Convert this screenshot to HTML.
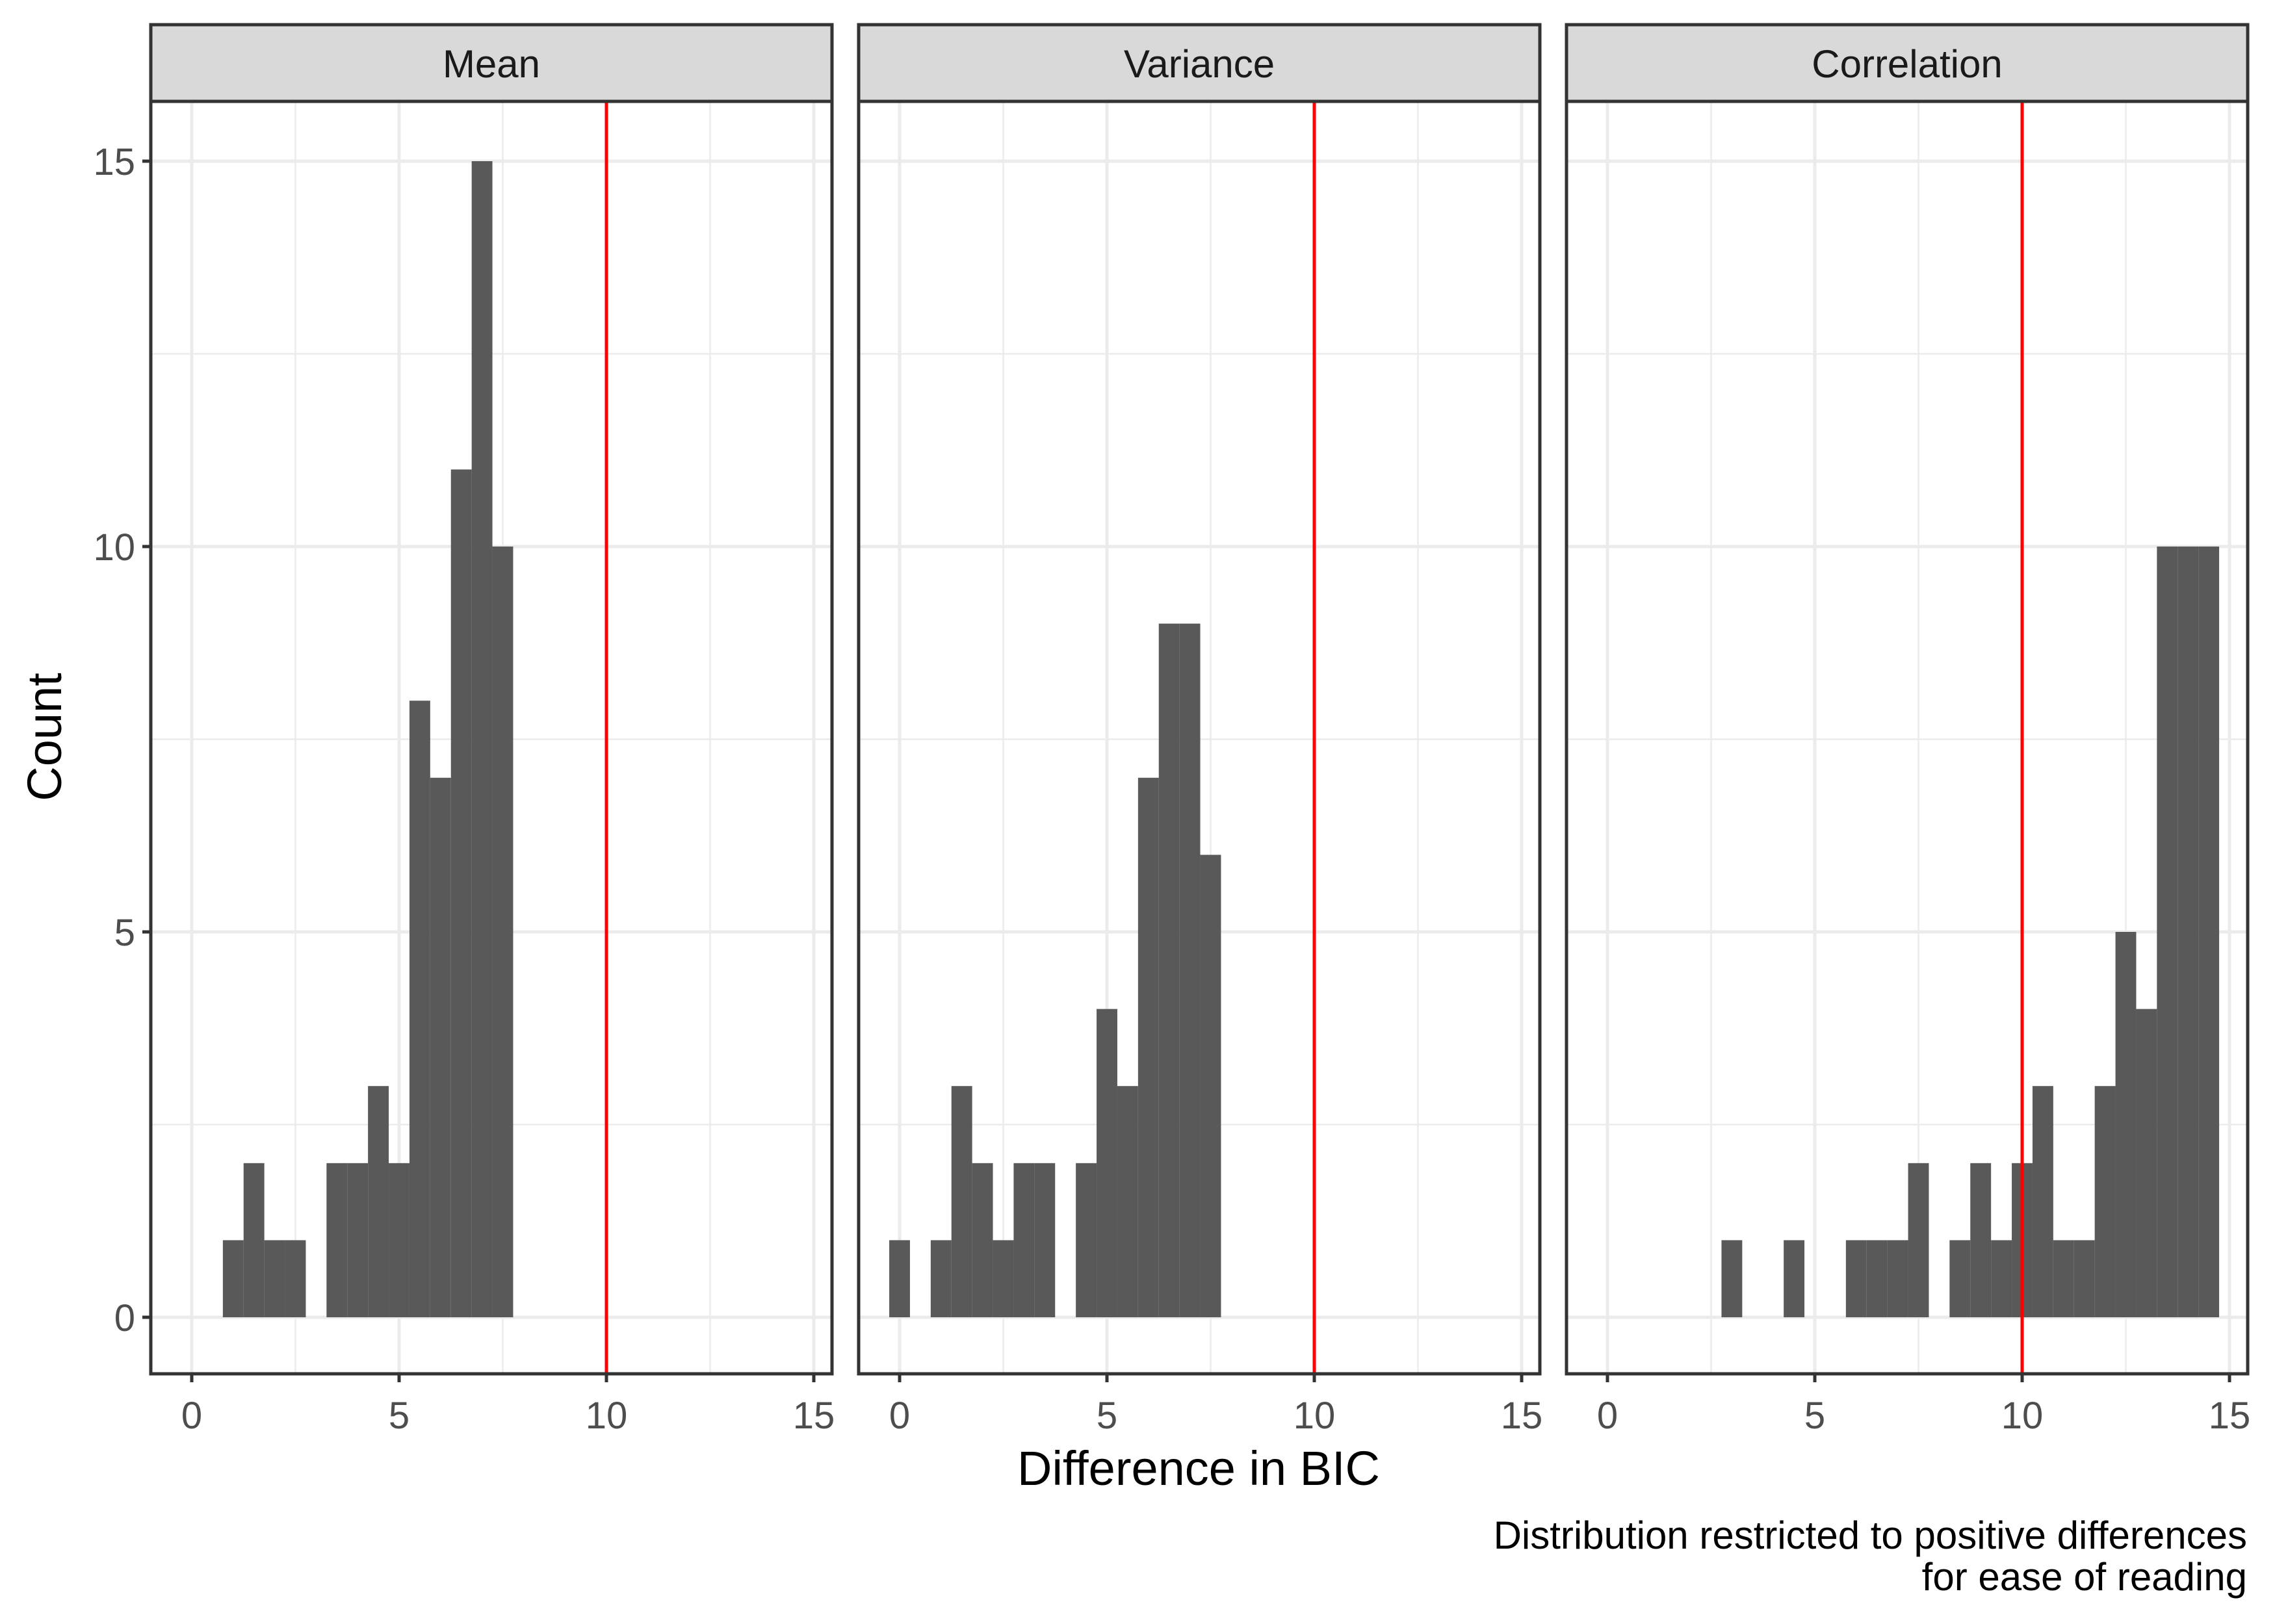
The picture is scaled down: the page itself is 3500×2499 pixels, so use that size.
<!DOCTYPE html>
<html><head><meta charset="utf-8"><style>
html,body{margin:0;padding:0;background:#fff}
svg{display:block}
text{font-family:"Liberation Sans",Arial,sans-serif}
</style></head><body>
<svg id="chart" width="3500" height="2499" viewBox="0 0 3500 2499" xmlns="http://www.w3.org/2000/svg">
<text x="0" y="0" transform="translate(94,1134) rotate(-90)" text-anchor="middle" font-size="74" fill="#000">Count</text>
<text x="1844" y="2285" text-anchor="middle" font-size="74" fill="#000">Difference in BIC</text>
<text x="3457" y="2383" text-anchor="end" font-size="60" fill="#000">Distribution restricted to positive differences</text>
<text x="3457" y="2447" text-anchor="end" font-size="60" fill="#000">for ease of reading</text>
</svg>
<script>
const panelNames = ["Mean","Variance","Correlation"];
const meanCenters = [1,1.5,2,2.5,3.5,4,4.5,5,5.5,6,6.5,7,7.5];
const meanCounts  = [1,2,1,1,2,2,3,2,8,7,11,15,10];
const varCenters = [0,1,1.5,2,2.5,3,3.5,4.5,5,5.5,6,6.5,7,7.5];
const varCounts  = [1,1,3,2,1,2,2,2,4,3,7,9,9,6];
const corCenters = [3,4.5,6,6.5,7,7.5,8.5,9,9.5,10,10.5,11,11.5,12,12.5,13,13.5,14,14.5];
const corCounts  = [1,1,1,1,1,2,1,2,1,2,3,1,1,3,5,4,10,10,10];
const xTicks = [0,5,10,15];
const yTicks = [0,5,10,15];
const threshold = 10;
const binWidth = 0.5;

const svg = document.getElementById('chart');
const NS = "http://www.w3.org/2000/svg";
const panelLefts = [232,1321,2410];
const panelW = 1048, plotTop = 156, plotBot = 2114, stripTop = 38;
const xUnit = 63.8, xOff = 63;
const y0 = 2027, yUnit = 118.6;
const yPos = v => y0 - v*yUnit;
function mk(tag, attrs){const e=document.createElementNS(NS,tag);for(const k in attrs)e.setAttribute(k,attrs[k]);svg.appendChild(e);return e;}
const seriesC = [meanCenters,varCenters,corCenters];
const seriesV = [meanCounts,varCounts,corCounts];

panelNames.forEach((name,p)=>{
  const L = panelLefts[p];
  const xPos = v => L + xOff + v*xUnit;
  for(let v=2.5; v<=17.5; v+=5){
    if(xPos(v)<L+panelW){const g=mk('line',{x1:xPos(v),x2:xPos(v),y1:plotTop,y2:plotBot,stroke:'#ebebeb','stroke-width':2.5});
    
    }
    const gy=mk('line',{x1:L,x2:L+panelW,y1:yPos(v),y2:yPos(v),stroke:'#ebebeb','stroke-width':2.5});
    
    
  }
  xTicks.forEach(v=>{
    const g=mk('line',{x1:xPos(v),x2:xPos(v),y1:plotTop,y2:plotBot,stroke:'#ebebeb','stroke-width':5});
    
    
    const t=mk('line',{x1:xPos(v),x2:xPos(v),y1:plotBot,y2:plotBot+13,stroke:'#333','stroke-width':5});
    
    
    const l=mk('text',{x:xPos(v),y:2198,'text-anchor':'middle','font-size':58,fill:'#4d4d4d'});
    l.textContent=v;
    
    
  });
  yTicks.forEach(v=>{
    const g=mk('line',{x1:L,x2:L+panelW,y1:yPos(v),y2:yPos(v),stroke:'#ebebeb','stroke-width':5});
    
    
  });
  seriesC[p].forEach((c,i)=>{
    const v=seriesV[p][i];
    const b=mk('rect',{x:xPos(c-binWidth/2),y:yPos(v),width:binWidth*xUnit,height:yPos(0)-yPos(v),fill:'#595959'});
    
    
  });
  const r=mk('line',{x1:xPos(threshold),x2:xPos(threshold),y1:plotTop,y2:plotBot,stroke:'#ff0000','stroke-width':5});
  
  
  const bd=mk('rect',{x:L,y:plotTop,width:panelW,height:plotBot-plotTop,fill:'none',stroke:'#333','stroke-width':5});
  
  
  const s=mk('rect',{x:L,y:stripTop,width:panelW,height:plotTop-stripTop,fill:'#d9d9d9',stroke:'#333','stroke-width':5});
  
  
  const st=mk('text',{x:L+panelW/2,y:119,'text-anchor':'middle','font-size':60,fill:'#1a1a1a'});
  st.textContent=name;
  
  
  if(p===0){
    yTicks.forEach(v=>{
      const t=mk('line',{x1:L-13,x2:L,y1:yPos(v),y2:yPos(v),stroke:'#333','stroke-width':5});
      
      
      const l=mk('text',{x:L-24,y:yPos(v)+21,'text-anchor':'end','font-size':58,fill:'#4d4d4d'});
      l.textContent=v;
      
      
    });
  }
});
</script>
</body></html>
